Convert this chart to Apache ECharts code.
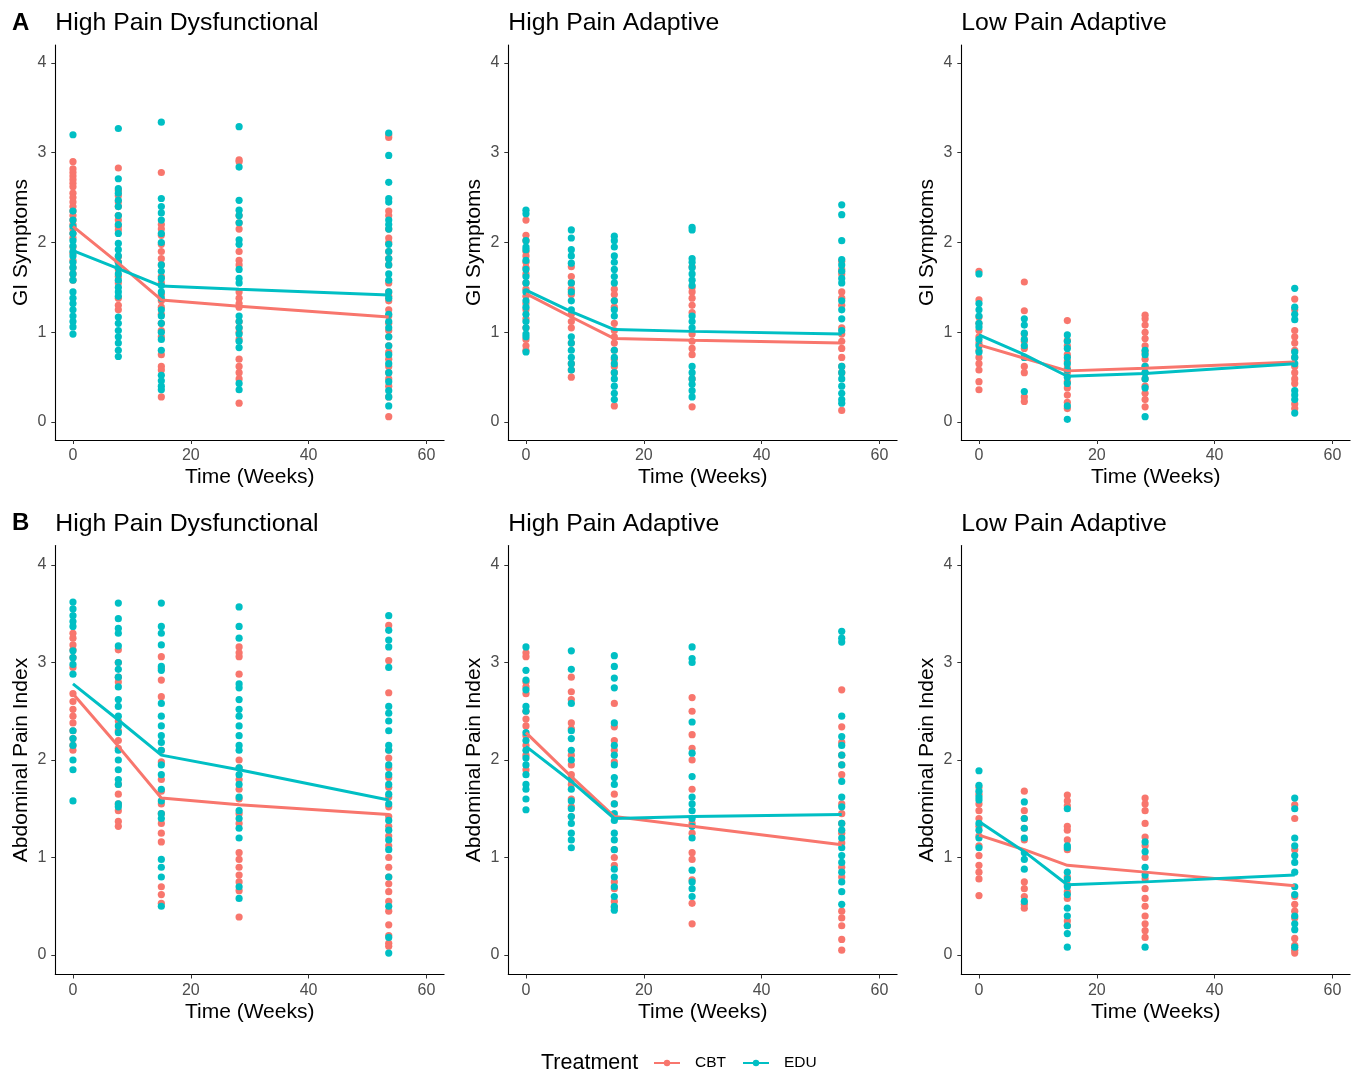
<!DOCTYPE html>
<html>
<head>
<meta charset="utf-8">
<script src="https://cdn.jsdelivr.net/npm/echarts@6/dist/echarts.min.js"></script>
<style>
html,body{margin:0;padding:0;background:#fff}
#chart{width:1363px;height:1077px}
</style>
</head>
<body>
<div id="chart"></div>
<script>
// time points (weeks)
var weeks = [0, 7.7, 15, 28.2, 53.6];

// A: GI symptoms, High Pain Dysfunctional
var giHpdCbt = [
  [2.90,2.82,2.78,2.74,2.70,2.66,2.62,2.55,2.50,2.45,2.40,2.35,2.30,2.25,2.20,2.15,2.10,2.05,1.95,1.88,1.80,1.72,1.65,1.58],
  [2.83,2.58,2.52,2.45,2.40,2.30,2.25,2.18,2.14,1.84,1.78,1.70,1.62,1.55,1.38,1.30,1.25],
  [2.78,2.20,2.15,2.08,1.98,1.90,1.82,1.75,1.62,1.55,1.42,1.35,1.28,1.20,1.10,1.02,0.95,0.75,0.62,0.58,0.28],
  [2.92,2.90,2.30,2.22,2.15,1.90,1.80,1.75,1.45,1.38,1.32,1.28,1.12,1.05,1.00,0.92,0.70,0.62,0.55,0.48,0.21],
  [3.17,3.20,2.35,2.30,2.15,2.05,2.00,1.90,1.82,1.75,1.55,1.45,1.40,1.35,1.25,1.18,1.10,1.02,0.95,0.85,0.78,0.70,0.62,0.55,0.48,0.40,0.28,0.06]
];
var giHpdEdu = [
  [3.20,2.35,2.25,2.18,2.10,2.02,1.96,1.90,1.85,1.78,1.72,1.65,1.58,1.45,1.38,1.32,1.25,1.18,1.12,1.06,0.98],
  [3.27,2.71,2.60,2.55,2.47,2.40,2.30,2.20,2.10,1.99,1.92,1.85,1.78,1.72,1.65,1.58,1.50,1.45,1.40,1.17,1.10,1.02,0.95,0.88,0.80,0.73],
  [3.34,2.49,2.40,2.33,2.25,2.10,2.00,1.75,1.68,1.60,1.52,1.45,1.38,1.25,1.18,1.10,1.00,0.92,0.80,0.52,0.46,0.40,0.36],
  [3.29,2.84,2.47,2.36,2.30,2.22,2.03,1.98,1.70,1.60,1.55,1.18,1.12,1.05,0.98,0.90,0.83,0.43,0.36],
  [3.22,2.97,2.67,2.49,2.45,2.25,2.20,2.15,1.98,1.90,1.82,1.75,1.65,1.58,1.45,1.38,1.20,1.12,1.05,0.95,0.85,0.75,0.65,0.55,0.45,0.35,0.28,0.18]
];
var giHpdCbtMean = [2.18, 1.77, 1.36, 1.29, 1.17];
var giHpdEduMean = [1.91, 1.71, 1.515, 1.48, 1.415];

// A: GI symptoms, High Pain Adaptive
var giHpaCbt = [
  [2.25,2.08,2.02,1.90,1.85,1.78,1.72,1.65,1.55,1.48,1.40,1.32,1.25,1.15,1.05,0.92,0.85,0.80],
  [1.73,1.62,1.55,1.48,1.42,1.20,1.12,1.05,0.88,0.65,0.58,0.50],
  [1.48,1.42,1.35,1.28,1.10,1.02,0.95,0.88,0.80,0.70,0.62,0.55,0.18],
  [1.73,1.50,1.45,1.38,1.30,1.22,0.98,0.90,0.82,0.75,0.48,0.17],
  [1.79,1.70,1.65,1.45,1.38,1.30,1.05,0.98,0.90,0.82,0.72,0.62,0.55,0.13]
];
var giHpaEdu = [
  [2.36,2.32,2.02,1.95,1.92,1.80,1.70,1.62,1.55,1.45,1.35,1.28,1.20,1.12,1.05,0.98,0.95,0.78],
  [2.14,2.05,1.92,1.85,1.77,1.55,1.45,1.35,1.25,0.95,0.88,0.80,0.72,0.65,0.58],
  [2.07,2.02,1.95,1.85,1.78,1.70,1.62,1.55,1.35,1.25,1.18,0.80,0.72,0.65,0.55,0.48,0.40,0.32,0.25],
  [2.17,2.14,1.82,1.78,1.72,1.65,1.58,1.52,1.18,1.12,1.05,0.62,0.55,0.48,0.42,0.35,0.28],
  [2.42,2.31,2.02,1.81,1.75,1.68,1.60,1.55,1.35,1.25,1.15,1.02,0.62,0.55,0.48,0.40,0.32,0.25,0.21]
];
var giHpaCbtMean = [1.43, 1.17, 0.93, 0.91, 0.88];
var giHpaEduMean = [1.47, 1.23, 1.03, 1.01, 0.98];

// A: GI symptoms, Low Pain Adaptive
var giLpaCbt = [
  [1.68,1.36,1.17,1.10,1.02,0.95,0.88,0.80,0.72,0.65,0.58,0.45,0.36],
  [1.56,1.24,0.98,0.90,0.82,0.72,0.62,0.55,0.28,0.23],
  [1.13,0.91,0.85,0.75,0.68,0.60,0.55,0.45,0.38,0.30,0.22,0.15],
  [1.19,1.15,1.08,1.00,0.93,0.85,0.78,0.70,0.62,0.55,0.48,0.40,0.32,0.25,0.17],
  [1.37,1.25,1.02,0.95,0.88,0.80,0.72,0.62,0.55,0.48,0.43,0.20,0.15]
];
var giLpaEdu = [
  [1.65,1.32,1.25,1.18,1.10,1.06,0.92,0.85,0.78],
  [1.15,1.08,0.99,0.92,0.85,0.72,0.34],
  [0.97,0.90,0.82,0.72,0.65,0.58,0.50,0.43,0.18,0.03],
  [0.80,0.75,0.62,0.55,0.48,0.38,0.06],
  [1.49,1.28,1.20,1.14,0.78,0.72,0.65,0.35,0.30,0.25,0.10]
];
var giLpaCbtMean = [0.86, 0.71, 0.57, 0.60, 0.67];
var giLpaEduMean = [0.97, 0.75, 0.51, 0.54, 0.65];

// B: Abdominal pain index, High Pain Dysfunctional
var apHpdCbt = [
  [3.30,3.25,3.18,3.13,3.05,2.95,2.68,2.60,2.52,2.45,2.38,2.30,2.22,2.15,2.10],
  [3.13,3.00,2.85,2.80,2.40,2.30,2.20,2.12,1.75,1.65,1.55,1.48,1.37,1.32],
  [3.06,2.94,2.82,2.65,2.10,1.98,1.80,1.68,1.55,1.45,1.35,1.25,1.16,0.70,0.62,0.53],
  [3.16,3.10,3.06,2.88,2.00,1.92,1.80,1.70,1.60,1.45,1.35,1.05,0.98,0.90,0.82,0.75,0.66,0.39],
  [3.38,3.02,2.69,2.10,2.02,1.92,1.82,1.72,1.62,1.52,1.42,1.32,1.22,1.12,1.00,0.90,0.80,0.73,0.65,0.55,0.45,0.31,0.20,0.12,0.09]
];
var apHpdEdu = [
  [3.62,3.55,3.48,3.42,3.37,3.12,3.05,2.98,2.88,2.30,2.22,2.15,2.00,1.90,1.58],
  [3.61,3.45,3.35,3.30,3.17,3.00,2.93,2.85,2.75,2.62,2.55,2.45,2.35,2.28,2.10,2.00,1.90,1.80,1.75,1.55,1.52],
  [3.61,3.37,3.30,3.18,2.96,2.92,2.58,2.45,2.35,2.25,2.18,2.10,1.95,1.85,1.70,1.58,1.45,1.40,0.98,0.90,0.80,0.50],
  [3.57,3.37,3.25,2.78,2.74,2.62,2.52,2.45,2.35,2.25,2.15,2.10,1.92,1.85,1.75,1.62,1.48,1.40,1.30,1.20,0.70,0.58],
  [3.48,3.33,3.23,3.16,2.95,2.55,2.48,2.40,2.30,2.15,2.10,1.95,1.85,1.75,1.65,1.55,1.38,1.28,1.18,1.08,0.80,0.50,0.18,0.02]
];
var apHpdCbtMean = [2.68, 2.14, 1.61, 1.54, 1.44];
var apHpdEduMean = [2.78, 2.41, 2.05, 1.90, 1.59];

// B: Abdominal pain index, High Pain Adaptive
var apHpaCbt = [
  [3.10,3.06,2.80,2.75,2.68,2.50,2.42,2.35,2.25,2.15,2.05,1.90],
  [2.85,2.70,2.62,2.38,2.32,2.05,1.95,1.85,1.75,1.60,1.52,1.42],
  [2.58,2.34,2.20,2.10,1.98,1.65,1.55,1.08,1.00,0.92,0.75,0.68,0.55,0.49],
  [2.64,2.50,2.26,2.12,2.00,1.70,1.35,1.25,1.05,0.98,0.77,0.53,0.32],
  [2.72,2.34,2.18,2.05,1.95,1.85,1.55,1.45,1.35,1.25,1.15,0.90,0.80,0.45,0.38,0.30,0.16,0.05]
];
var apHpaEdu = [
  [3.16,2.92,2.82,2.72,2.55,2.50,2.28,2.20,2.10,2.02,1.95,1.85,1.75,1.70,1.60,1.49],
  [3.12,2.93,2.58,2.30,2.22,2.10,2.00,1.80,1.70,1.58,1.50,1.42,1.35,1.25,1.18,1.10],
  [3.07,2.96,2.84,2.74,2.38,2.15,2.05,1.95,1.82,1.75,1.55,1.45,1.38,1.25,1.18,1.08,0.88,0.80,0.70,0.60,0.50,0.46],
  [3.16,3.04,3.00,2.39,2.07,1.83,1.62,1.55,1.48,1.40,1.32,1.20,0.87,0.75,0.68,0.60],
  [3.32,3.25,3.21,2.45,2.24,2.15,2.05,1.95,1.78,1.62,1.52,1.35,1.28,1.20,1.10,1.02,0.95,0.85,0.75,0.65,0.52]
];
var apHpaCbtMean = [2.28, 1.83, 1.42, 1.32, 1.13];
var apHpaEduMean = [2.14, 1.78, 1.40, 1.42, 1.44];

// B: Abdominal pain index, Low Pain Adaptive
var apLpaCbt = [
  [1.72,1.65,1.55,1.48,1.40,1.32,1.22,1.12,1.02,0.92,0.85,0.78,0.61],
  [1.68,1.48,1.40,1.30,1.18,0.75,0.68,0.60,0.52,0.48],
  [1.64,1.58,1.53,1.32,1.28,1.18,1.08,0.80,0.72,0.65,0.58,0.35,0.30],
  [1.61,1.55,1.48,1.35,1.21,1.12,1.00,0.78,0.68,0.58,0.50,0.40,0.32,0.25,0.18],
  [1.54,1.40,1.08,0.60,0.52,0.45,0.38,0.17,0.10,0.05,0.02]
];
var apLpaEdu = [
  [1.89,1.74,1.68,1.62,1.59,1.35,1.28,1.20,1.10],
  [1.57,1.40,1.30,1.20,1.05,0.98,0.88,0.55],
  [1.50,1.12,1.10,0.85,0.78,0.70,0.62,0.48,0.40,0.30,0.22,0.08],
  [1.16,1.06,0.90,0.82,0.08],
  [1.61,1.50,1.20,1.12,1.02,0.95,0.85,0.70,0.62,0.40,0.32,0.26,0.08]
];
var apLpaCbtMean = [1.23, 1.08, 0.92, 0.85, 0.71];
var apLpaEduMean = [1.37, 1.06, 0.72, 0.75, 0.82];

var panelTitles = ['High Pain Dysfunctional', 'High Pain Adaptive', 'Low Pain Adaptive'];
var rowLetters = ['A', 'B'];
var rowYNames = ['GI Symptoms', 'Abdominal Pain Index'];
var xTicks = [0, 20, 40, 60];
var yTicks = [0, 1, 2, 3, 4];

var cbtColor = '#F8766D';
var eduColor = '#00BFC4';
var font = 'Liberation Sans, Arial, sans-serif';

var panels = [
  {row:0, col:0, cbt:giHpdCbt, edu:giHpdEdu, cbtMean:giHpdCbtMean, eduMean:giHpdEduMean},
  {row:0, col:1, cbt:giHpaCbt, edu:giHpaEdu, cbtMean:giHpaCbtMean, eduMean:giHpaEduMean},
  {row:0, col:2, cbt:giLpaCbt, edu:giLpaEdu, cbtMean:giLpaCbtMean, eduMean:giLpaEduMean},
  {row:1, col:0, cbt:apHpdCbt, edu:apHpdEdu, cbtMean:apHpdCbtMean, eduMean:apHpdEduMean},
  {row:1, col:1, cbt:apHpaCbt, edu:apHpaEdu, cbtMean:apHpaCbtMean, eduMean:apHpaEduMean},
  {row:1, col:2, cbt:apLpaCbt, edu:apLpaEdu, cbtMean:apLpaCbtMean, eduMean:apLpaEduMean}
];

// panel geometry
var colLeft = [55.3, 508.3, 961.3];
var rowTop = [45, 545.5];
var rowHeight = [395, 429];
var panelWidth = 388.8;

function toPoints(cols) {
  var out = [];
  for (var i = 0; i < cols.length; i++) {
    for (var j = 0; j < cols[i].length; j++) {
      out.push([weeks[i], cols[i][j]]);
    }
  }
  return out;
}
function toLine(means) {
  var out = [];
  for (var i = 0; i < means.length; i++) out.push([weeks[i], means[i]]);
  return out;
}

var grids = [], xAxes = [], yAxes = [], titles = [];
var lineSeries = [], dotSeries = [];

for (var p = 0; p < panels.length; p++) {
  var pn = panels[p];
  grids.push({
    left: colLeft[pn.col], top: rowTop[pn.row],
    width: panelWidth, height: rowHeight[pn.row],
    outerBoundsMode: 'none'
  });
  xAxes.push({
    gridIndex: p, type: 'value', min: -3, max: 63,
    name: 'Time (Weeks)', nameLocation: 'middle', nameGap: 27,
    nameTextStyle: {color: '#000', fontSize: 21, fontFamily: font},
    axisLine: {onZero: false, lineStyle: {color: '#000', width: 1.1}},
    axisTick: {show: true, length: 4, lineStyle: {color: '#333'}, customValues: xTicks},
    axisLabel: {color: '#4d4d4d', fontSize: 16, fontFamily: font, margin: 8, customValues: xTicks},
    splitLine: {show: false}
  });
  yAxes.push({
    gridIndex: p, type: 'value', min: -0.2, max: 4.2,
    name: rowYNames[pn.row], nameLocation: 'middle', nameGap: 24,
    nameTextStyle: {color: '#000', fontSize: 21, fontFamily: font},
    axisLine: {show: true, onZero: false, lineStyle: {color: '#000', width: 1.1}},
    axisTick: {show: true, length: 4, lineStyle: {color: '#333'}, customValues: yTicks},
    axisLabel: {color: '#4d4d4d', fontSize: 16, fontFamily: font, margin: 9, customValues: yTicks},
    splitLine: {show: false}
  });
  titles.push({
    text: panelTitles[pn.col],
    left: colLeft[pn.col], top: rowTop[pn.row] - 34, padding: 0,
    textStyle: {color: '#000', fontSize: 24.8, fontWeight: 'normal', fontFamily: font}
  });
  lineSeries.push({
    name: 'CBT', type: 'line', xAxisIndex: p, yAxisIndex: p,
    data: toLine(pn.cbtMean), symbol: 'circle', symbolSize: 7, showSymbol: false,
    lineStyle: {color: cbtColor, width: 3}, itemStyle: {color: cbtColor},
    z: 4, silent: true, animation: false
  });
  lineSeries.push({
    name: 'EDU', type: 'line', xAxisIndex: p, yAxisIndex: p,
    data: toLine(pn.eduMean), symbol: 'circle', symbolSize: 7, showSymbol: false,
    lineStyle: {color: eduColor, width: 3}, itemStyle: {color: eduColor},
    z: 4, silent: true, animation: false
  });
  dotSeries.push({
    name: 'CBT', type: 'scatter', xAxisIndex: p, yAxisIndex: p,
    data: toPoints(pn.cbt), symbolSize: 7.2,
    itemStyle: {color: cbtColor, opacity: 1}, z: 2, animation: false
  });
  dotSeries.push({
    name: 'EDU', type: 'scatter', xAxisIndex: p, yAxisIndex: p,
    data: toPoints(pn.edu), symbolSize: 7.2,
    itemStyle: {color: eduColor, opacity: 1}, z: 2, animation: false
  });
}

for (var r = 0; r < rowLetters.length; r++) {
  titles.push({
    text: rowLetters[r], left: 12, top: rowTop[r] - 34, padding: 0,
    textStyle: {color: '#000', fontSize: 24, fontWeight: 'bold', fontFamily: font}
  });
}

var chart = echarts.init(document.getElementById('chart'), null, {renderer: 'canvas'});
chart.setOption({
  backgroundColor: '#fff',
  animation: false,
  title: titles,
  grid: grids,
  xAxis: xAxes,
  yAxis: yAxes,
  legend: {
    data: ['CBT', 'EDU'],
    left: 653, top: 1055, padding: 0,
    itemWidth: 26, itemHeight: 8, itemGap: 16,
    textStyle: {color: '#000', fontSize: 15.5, fontFamily: font, padding: [0, 0, 0, 10]},
    selectedMode: false
  },
  graphic: [{
    type: 'text', left: 541, top: 1052,
    style: {text: 'Treatment', fill: '#000', fontSize: 21.5, fontFamily: font}
  }],
  series: lineSeries.concat(dotSeries)
});
</script>
</body>
</html>
